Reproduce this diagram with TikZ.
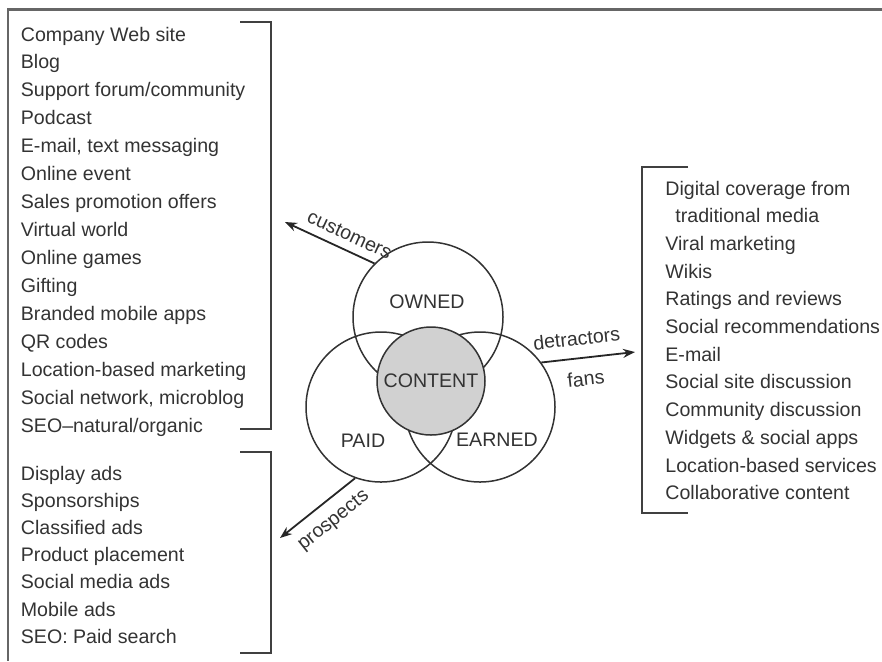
\documentclass[tikz,border=0pt]{standalone}
\usepackage{fontspec}
\setmainfont{Liberation Sans}
\usepackage{xcolor}
\usetikzlibrary{positioning, arrows.meta}

\begin{document}
\begin{tikzpicture}[x=0.5pt, y=-0.5pt,
    ring/.style={circle, draw=black!80, line width=0.75pt, minimum size=75pt, inner sep=0pt},
    word/.style={inner sep=0pt, text=black!80, font=\fontsize{9.8}{12}\selectfont},
    item/.style={word, anchor=base west},
    tag/.style={word, inner sep=1pt, sloped},
    flow/.style={-{Stealth[length=6pt, width=4.5pt]}, line width=0.9pt, black!85},
    bracket/.style={line width=1pt, black!75}]
  \useasboundingbox (0,0) rectangle (882,661);
  \draw[line width=1.4pt, black!60] (882,9.5) -- (8,9.5) -- (8,661);

  % the three media circles and the shared content
  \node[ring] (owned) at (428,317) {};
  \node[ring] (paid) at (381,407) {};
  \node[ring] (earned) at (480,407) {};
  \node[ring, fill=black!18, minimum size=54pt] (content) at (431,381) {};
  \node[word] (ownedtxt) at (427,302) {OWNED};
  \node[word] (paidtxt) at (363,441) {PAID};
  \node[word] (earnedtxt) at (497,440) {EARNED};
  \node[word] (contenttxt) at (431,381) {CONTENT};

  % flows out of the circles
  \coordinate (custtip) at (285,222);
  \coordinate (fantip) at (635,352);
  \coordinate (prostip) at (280,538);
  \draw[flow] (owned.135) -- node[tag, pos=0.35, above=3pt] {customers} (custtip);
  \draw[flow] (earned.36) -- node[tag, pos=0.4, above=5pt] {detractors}
                             node[tag, pos=0.45, below=5.5pt] {fans} (fantip);
  \draw[flow] (paid.250) -- node[tag, pos=0.45, below=4.5pt] {prospects} (prostip);

  % owned media
  \foreach \txt [count=\i from 0] in {Company Web site, Blog, Support forum/community,
      Podcast, {E-mail, text messaging}, Online event, Sales promotion offers,
      Virtual world, Online games, Gifting, Branded mobile apps, QR codes,
      Location-based marketing, {Social network, microblog}, SEO--natural/organic}
    \node[item] (own\i) at (20.5,{41+27.93*\i}) {\txt};
  \draw[bracket] (240,21.7) -- (271,21.7) -- (271,429) -- (240,429);

  % paid media
  \foreach \txt [count=\i from 0] in {Display ads, Sponsorships, Classified ads,
      Product placement, Social media ads, Mobile ads, SEO: Paid search}
    \node[item] (pay\i) at (20.5,{480+27.2*\i}) {\txt};
  \draw[bracket] (240,452) -- (271,452) -- (271,653) -- (240,653);

  % earned media
  \foreach \txt [count=\i from 0] in {Digital coverage from, Viral marketing, Wikis,
      Ratings and reviews, Social recommendations, E-mail, Social site discussion,
      Community discussion, Widgets \& social apps, Location-based services,
      Collaborative content}
    \node[item] (earn\i) at (665,{195+27.7*\i+27.7*min(\i,1)}) {\txt};
  \node[item] (earnx) at (675,{195+27.7}) {traditional media};
  \draw[bracket] (688,167) -- (642,167) -- (642,513) -- (688,513);
\end{tikzpicture}
\end{document}
